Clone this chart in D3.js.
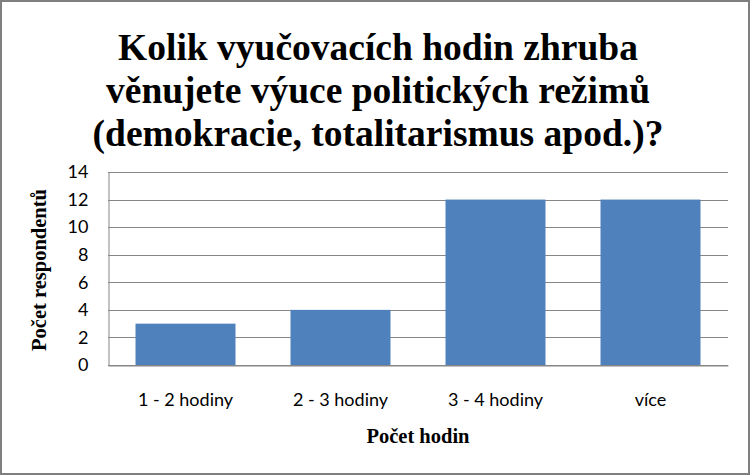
<!DOCTYPE html>
<html>
<head>
<meta charset="utf-8">
<script src="https://cdn.jsdelivr.net/npm/d3@7"></script>
<style>
  body { margin: 0; background: #fff; }
  svg { display: block; }
</style>
</head>
<body>
<div id="chart"></div>
<script>
// DATA
const categories = ["1 - 2 hodiny", "2 - 3 hodiny", "3 - 4 hodiny", "více"];
const values = [3, 4, 12, 12];
const yTicks = [0, 2, 4, 6, 8, 10, 12, 14];
const titleLines = [
  "Kolik vyučovacích hodin zhruba",
  "věnujete výuce politických režimů",
  "(demokracie, totalitarismus apod.)?"
];
const xTitle = "Počet hodin";
const yTitle = "Počet respondentů";

const barClr = "#4F81BD";
const gridClr = "#868686";
const serif = "'Liberation Serif', 'Times New Roman', Times, serif";
const sans = "Lato, 'Open Sans', sans-serif";

const w = 752;
const h = 476;
const margin = { top: 172, right: 24, bottom: 111, left: 108 };

const svg = d3.select("#chart")
  .append("svg")
  .attr("width", w)
  .attr("height", h);

// FRAME
svg.append("rect")
  .attr("x", 1)
  .attr("y", 1)
  .attr("width", 748)
  .attr("height", 473)
  .attr("fill", "#fff")
  .attr("stroke", "#7f7f7f")
  .attr("stroke-width", 2);

// SCALES
const xScale = d3.scaleBand()
  .domain(categories)
  .range([margin.left, w - margin.right])
  .paddingInner(0.355)
  .paddingOuter(0.1775);

const yScale = d3.scaleLinear()
  .domain([0, 14])
  .range([h - margin.bottom, margin.top]);

// GRIDLINES
svg.append("g")
  .selectAll("line")
  .data(yTicks)
  .enter()
  .append("line")
  .attr("x1", margin.left)
  .attr("x2", w - margin.right)
  .attr("y1", (d) => Math.round(yScale(d)) + 0.5)
  .attr("y2", (d) => Math.round(yScale(d)) + 0.5)
  .attr("stroke", gridClr)
  .attr("stroke-width", 1);

// BARS
svg.append("g")
  .selectAll("rect")
  .data(values)
  .enter()
  .append("rect")
  .attr("x", (d, i) => xScale(categories[i]))
  .attr("y", (d) => yScale(d))
  .attr("width", xScale.bandwidth())
  .attr("height", (d) => yScale(0) - yScale(d))
  .attr("fill", barClr);

// AXES
const yAxis = d3.axisLeft(yScale)
  .tickValues(yTicks)
  .tickSize(0)
  .tickPadding(20);

const gy = svg.append("g")
  .attr("transform", "translate(" + (margin.left + 0.5) + ",0)")
  .call(yAxis);

gy.select(".domain").attr("stroke", gridClr);
gy.selectAll("text")
  .attr("font-family", sans)
  .attr("font-size", 18)
  .attr("fill", "#000");

const xAxis = d3.axisBottom(xScale)
  .tickSize(0)
  .tickPadding(28);

const gx = svg.append("g")
  .attr("transform", "translate(0," + (Math.round(yScale(0)) + 0.5) + ")")
  .call(xAxis);

gx.select(".domain").attr("stroke", gridClr);
gx.selectAll("text")
  .attr("font-family", sans)
  .attr("font-size", 18)
  .attr("fill", "#000");

// TITLE
svg.append("text")
  .attr("text-anchor", "middle")
  .style("font-family", serif)
  .style("font-weight", "bold")
  .style("font-size", "37.5px")
  .selectAll("tspan")
  .data(titleLines)
  .enter()
  .append("tspan")
  .attr("x", w / 2 + 2)
  .attr("y", (d, i) => 60 + i * 43)
  .text((d) => d);

// AXIS TITLES
svg.append("text")
  .attr("x", 418)
  .attr("y", 443)
  .attr("text-anchor", "middle")
  .style("font-family", serif)
  .style("font-weight", "bold")
  .style("font-size", "20.5px")
  .text(xTitle);

svg.append("text")
  .attr("transform", "translate(46,270) rotate(-90)")
  .attr("text-anchor", "middle")
  .style("font-family", serif)
  .style("font-weight", "bold")
  .style("font-size", "20.5px")
  .text(yTitle);
</script>
</body>
</html>
